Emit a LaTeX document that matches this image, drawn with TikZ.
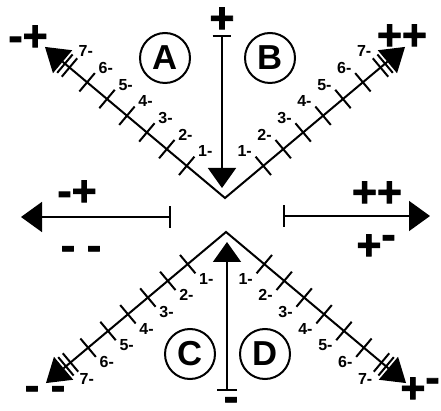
\documentclass[tikz,border=0pt]{standalone}
\usepackage{fontspec}
\setmainfont{Liberation Sans}
\newfontfamily\signfont{Liberation Sans}[FakeBold=2]
\usetikzlibrary{arrows.meta,calc}
\tikzset{arm/.style={line width=1.5pt,line join=miter},notch/.style={line width=1.5pt},digit/.style={font=\bfseries\fontsize{12}{13}\selectfont,inner sep=0pt},sign/.style={font=\signfont\bfseries\fontsize{32}{32}\selectfont,inner sep=0pt},zone/.style={circle,draw,line width=1.5pt,minimum size=37.5pt,inner sep=0pt,font=\bfseries\fontsize{26}{26}\selectfont},pointer/.style={line width=1.2pt}}

\begin{document}
\begin{tikzpicture}[x=0.75pt,y=0.75pt]
\useasboundingbox (0,0) rectangle (441,410);
\coordinate (vt) at (225,212);
\coordinate (vb) at (226,178);
\coordinate (tl) at ($(vt)+(140:212)$);
\coordinate (tr) at ($(vt)+(40:212)$);
\coordinate (bl) at ($(vb)+(220:212)$);
\coordinate (br) at ($(vb)+(320:212)$);
% the two scales
\draw[arm] (tl) -- (vt) -- (tr);
\draw[arm] (bl) -- (vb) -- (br);
\foreach \v/\a/\s in {vt/140/-1,vt/40/1,vb/220/1,vb/320/-1}{
  \foreach \k in {1,...,6}
    \draw[notch] ($(\v)+(\a:{24+26*\k})$) +({\a+90}:12) -- +({\a-90}:12);
  \foreach \r in {203,209}
    \draw[notch] ($(\v)+(\a:\r)$) +({\a+90}:12) -- +({\a-90}:12);
  \fill ($(\v)+(\a:235)$) -- ($(\v)+(\a:212)+({\a+90}:15)$) -- ($(\v)+(\a:212)+({\a-90}:15)$) -- cycle;
  \foreach \k in {1,...,7}
    \node[digit] at ($(\v)+(\a:{19+26*\k})+({\a+\s*90}:23)$) {\k-};
}
% the four pointers
\coordinate (ntop) at (222,375);
\coordinate (ntip) at (222,222);
\coordinate (sbot) at (227,19);
\coordinate (stip) at (227,168);
\coordinate (wend) at (171,193);
\coordinate (wtip) at (21,193);
\coordinate (eend) at (283,194);
\coordinate (etip) at (430,194);
\draw[pointer,{Bar[width=14pt]}-{Triangle[length=15pt,width=21pt]}] (ntop) -- (ntip);
\draw[pointer,{Bar[width=15pt]}-{Triangle[length=15pt,width=21pt]}] (sbot) -- (stip);
\draw[pointer,{Bar[width=16pt]}-{Triangle[length=15.75pt,width=22.5pt]}] (wend) -- (wtip);
\draw[pointer,{Bar[width=16pt]}-{Triangle[length=15.75pt,width=22.5pt]}] (eend) -- (etip);
% quadrants
\node[zone] (A) at (165,352) {A};
\node[zone] (B) at (270,352) {B};
\node[zone] (C) at (190,56) {C};
\node[zone] (D) at (265,56) {D};
% signs
\node[sign] (nw) at (28,372) {-+};
\node[sign] (ne) at (402,373) {++};
\node[sign] (n) at (222,390) {+};
\node[sign] (wup) at (77,217) {-+};
\node[sign] (wdn) at (81,157) {- -};
\node[sign] (eup) at (377,216) {++};
\node[sign] (edn) at (376,163) {+\raisebox{0.25em}{-}};
\node[sign] (sw) at (45,17) {- -};
\node[sign] (se) at (420,20) {+\raisebox{0.25em}{-}};
\node[sign] (s) at (231,6) {-};
\end{tikzpicture}
\end{document}
